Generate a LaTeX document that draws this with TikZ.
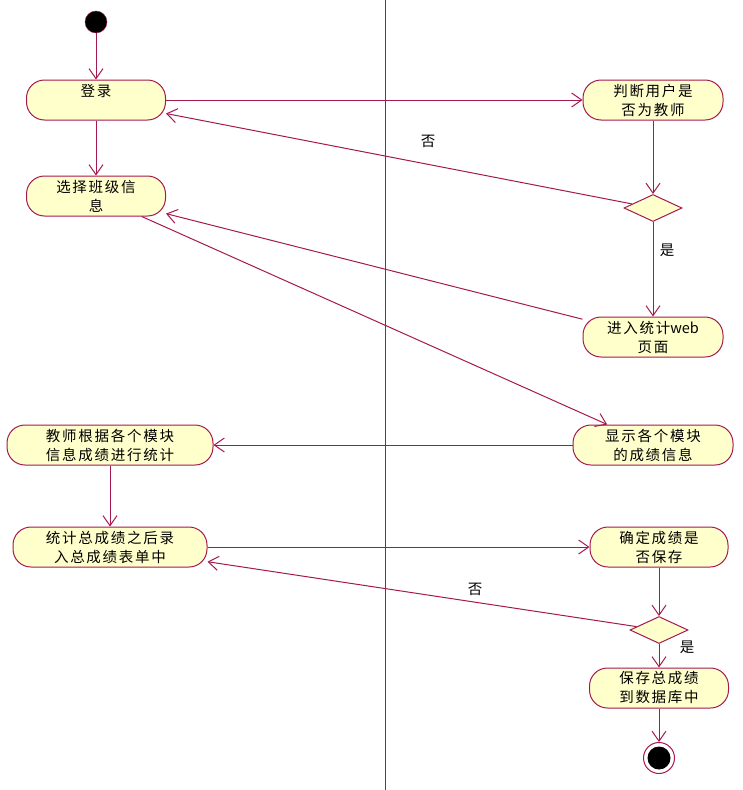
\documentclass[tikz,border=0pt]{standalone}
\usepackage{fontspec}
\setmainfont{Noto Sans CJK SC}[LetterSpace=12]
\newfontfamily\plainfont{Noto Sans CJK SC}
\usetikzlibrary{arrows.meta,shapes.geometric}
\definecolor{umlred}{RGB}{165,25,80}
\definecolor{umlfill}{RGB}{255,255,204}
\begin{document}
\begin{tikzpicture}[x=1pt,y=-1pt,
  every node/.style={font=\fontsize{14.5}{19}\selectfont},
  act/.style={draw=umlred,line width=1pt,fill=umlfill,rounded corners=18pt,minimum height=40pt,inner sep=2pt,align=center},
  dec/.style={draw=umlred,line width=1pt,fill=umlfill,diamond,minimum width=58pt,minimum height=27pt,inner sep=0pt},
  flow/.style={draw=umlred,line width=1pt,-{Straight Barb[length=10pt,width=14pt]}}]
  \useasboundingbox (0,0) rectangle (742,790);
  \draw [umlred,line width=1pt] (385,0) -- (385,790);
    \node [circle,draw=umlred,fill=black,minimum size=22pt,inner sep=0pt] (start) at (96,22) {};
    \node [act,minimum width=139pt] (login) at (96,100) {登录\\\mbox{}};
    \node [act,minimum width=139pt] (choose) at (96,196) {选择班级信\\息};
    \node [act,minimum width=140pt] (judge) at (653,100) {判断用户是\\否为教师};
    \node [dec] (d1) at (653,208) {};
    \node [act,minimum width=140pt] (web) at (653,337) {进入统计{\plainfont web}\\页面};
    \node [act,minimum width=160pt] (show) at (653,445) {显示各个模块\\的成绩信息};
    \node [act,minimum width=206pt] (stat) at (110,445) {教师根据各个模块\\信息成绩进行统计};
    \node [act,minimum width=194pt] (total) at (110,547) {统计总成绩之后录\\入总成绩表单中};
    \node [act,minimum width=138pt] (confirm) at (659,547) {确定成绩是\\否保存};
    \node [dec] (d2) at (659,630) {};
    \node [act,minimum width=139pt] (save) at (659,688) {保存总成绩\\到数据库中};
    \node [circle,draw=umlred,line width=1pt,fill=white,minimum size=31pt,inner sep=0pt] (end) at (659,758) {};
    \node [circle,fill=black,minimum size=23pt,inner sep=0pt] (endin) at (end) {};
    \node (no1) at (428,141) {否};
    \node (yes1) at (667,250) {是};
    \node (no2) at (475,589) {否};
    \node (yes2) at (687,647) {是};
  \draw [flow] (start) -- (login);
  \draw [flow] (login) -- (judge);
  \draw [flow] (judge) -- (d1);
  \draw [flow] (d1) -- (login);
  \draw [flow] (login) -- (choose);
  \draw [flow] (d1) -- (web);
  \draw [flow] (web) -- (choose);
  \draw [flow] (choose) -- (show);
  \draw [flow] (show) -- (stat);
  \draw [flow] (stat) -- (total);
  \draw [flow] (total) -- (confirm);
  \draw [flow] (confirm) -- (d2);
  \draw [flow] (d2) -- (total);
  \draw [flow] (d2) -- (save);
  \draw [flow] (save) -- (end);
\end{tikzpicture}
\end{document}
